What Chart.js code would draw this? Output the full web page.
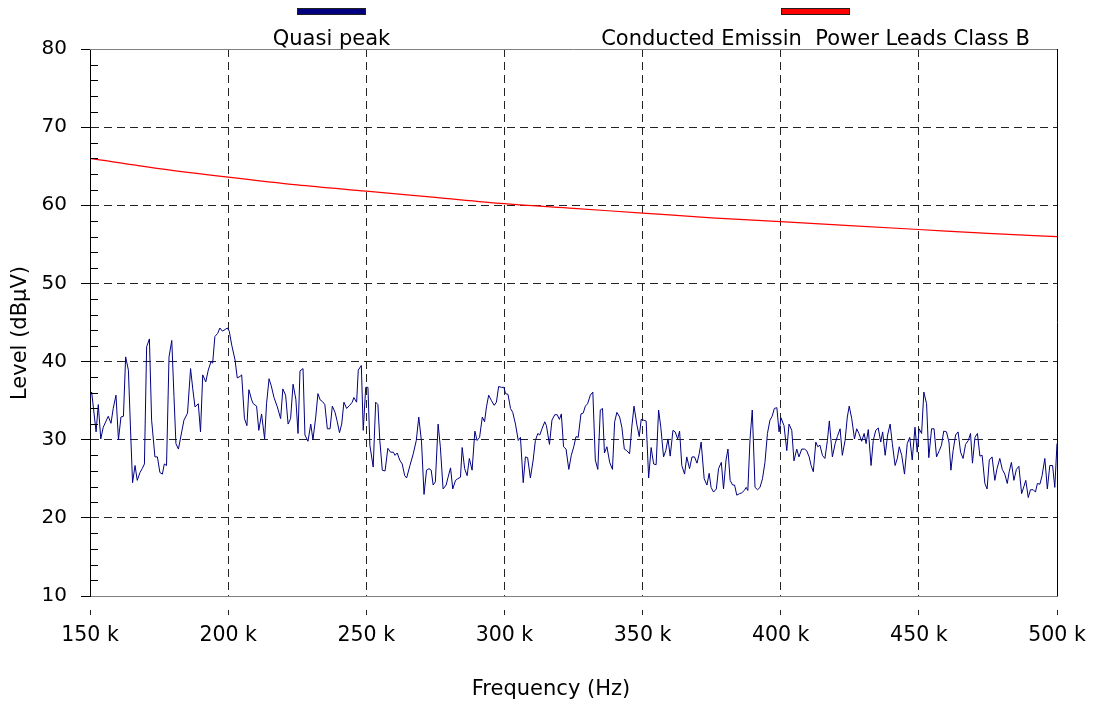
<!DOCTYPE html>
<html>
<head>
<meta charset="utf-8">
<script src="https://cdn.jsdelivr.net/npm/chart.js@4.4.1/dist/chart.umd.min.js"></script>
<style>
  html, body { margin: 0; padding: 0; background: #fff; }
  #wrap { width: 1096px; height: 704px; position: relative; }
</style>
</head>
<body>
<div id="wrap"><canvas id="emiChart"></canvas></div>
<script>
// Quasi peak scan (frequency in kHz, level in dBuV)
const qpFreq = [
  150.0,150.6,152.2,153.0,153.9,154.8,155.7,156.6,157.6,158.4,
  159.4,160.3,161.2,162.1,162.9,163.9,164.7,165.4,166.3,167.1,
  168.1,168.9,169.7,170.5,171.5,172.3,173.5,174.4,175.3,176.2,
  176.9,177.7,178.6,179.6,180.4,181.1,182.0,183.2,184.0,185.3,
  186.4,187.2,188.0,189.2,190.0,190.8,191.9,192.8,193.8,194.4,
  195.2,196.2,197.0,197.9,198.9,199.7,200.4,201.3,202.5,203.3,
  204.3,204.9,205.9,206.8,207.5,208.5,209.1,210.3,211.1,212.1,
  213.2,213.9,214.8,215.6,216.6,217.8,219.0,219.8,220.8,221.7,
  222.6,223.5,224.5,225.3,226.0,227.1,227.8,228.9,229.9,230.7,
  231.7,232.5,233.3,234.1,235.0,235.9,236.9,237.7,238.7,239.5,
  240.3,241.1,241.9,242.9,244.0,244.9,245.5,246.5,247.1,248.2,
  248.9,249.8,250.6,251.3,252.5,253.4,254.2,254.9,255.8,256.8,
  257.8,258.8,259.8,260.4,261.2,262.1,263.0,263.9,264.6,265.8,
  267.0,268.1,269.0,270.0,270.9,271.8,272.7,273.5,274.2,275.0,
  276.0,276.8,277.8,278.9,279.6,280.5,281.3,282.3,283.1,284.1,
  284.7,285.6,286.5,287.3,288.3,289.3,290.1,291.0,292.0,292.8,
  293.5,294.3,295.3,296.3,297.1,297.9,298.9,299.8,300.4,301.3,
  302.2,303.0,304.0,305.0,305.8,306.8,307.6,308.4,309.4,310.4,
  311.2,312.1,312.8,313.6,314.6,315.2,316.3,317.2,318.2,319.1,
  319.9,320.6,321.4,322.3,323.3,324.2,325.1,325.9,326.7,327.7,
  328.5,329.3,330.1,331.1,332.0,332.9,333.8,334.7,335.5,336.2,
  337.1,338.1,339.1,339.9,340.7,341.7,342.5,343.4,344.3,345.3,
  346.1,346.9,347.9,348.8,349.5,350.4,351.3,352.2,353.1,354.0,
  354.9,355.8,356.6,357.6,358.4,359.2,360.0,361.0,361.8,362.7,
  363.4,364.2,365.2,366.0,367.0,367.9,368.8,369.7,370.5,371.2,
  372.3,373.3,374.1,374.8,375.7,376.7,377.5,378.5,379.3,380.2,
  380.9,381.7,382.6,383.3,384.1,385.1,385.9,386.8,387.5,388.1,
  388.9,389.7,390.7,391.6,392.5,393.4,394.3,395.2,396.1,396.9,
  397.7,398.6,399.4,400.1,401.2,402.2,403.0,404.0,404.8,405.8,
  406.6,407.6,408.6,409.4,410.3,411.0,411.8,412.7,413.4,414.2,
  415.1,416.0,416.9,417.6,418.7,419.7,420.5,421.5,422.3,423.3,
  424.1,424.8,425.7,426.7,427.5,428.3,429.3,430.2,430.9,431.7,
  432.7,433.5,434.4,435.3,436.2,436.9,437.8,438.7,439.6,440.4,
  441.4,442.2,442.9,443.8,444.8,445.8,446.7,447.6,448.6,449.4,
  450.1,451.0,451.8,452.8,453.6,454.6,455.5,456.4,457.4,458.2,
  459.0,460.0,460.9,461.6,462.4,463.3,464.2,465.1,466.0,466.9,
  467.9,468.7,469.4,470.3,471.2,472.1,472.9,473.9,474.7,475.5,
  476.5,477.5,478.3,479.3,480.2,481.1,482.0,482.7,483.5,484.4,
  485.3,486.2,487.2,488.0,488.7,489.6,490.4,491.4,492.2,492.9,
  493.8,494.6,495.6,496.5,497.4,498.4,499.2,500.0
];
const qpLevel = [
  35.5,36.1,31.0,34.5,30.1,31.6,32.3,33.0,32.1,34.0,
  35.7,30.0,32.9,33.0,40.6,38.9,31.0,24.5,26.7,24.8,
  25.8,26.3,26.9,41.9,42.9,32.5,27.8,27.8,25.8,25.6,
  26.9,26.7,40.6,42.7,35.5,29.5,28.8,31.0,32.5,33.4,
  39.1,36.5,34.2,34.6,31.0,38.3,37.4,38.9,40.0,39.8,
  43.2,43.6,44.3,43.9,44.1,44.3,43.9,42.1,40.2,37.9,
  38.1,38.3,32.7,31.8,36.4,35.1,34.6,34.3,31.2,33.3,
  30.1,34.6,37.8,36.9,35.4,34.2,32.7,36.5,35.7,32.0,
  32.7,37.1,35.2,30.8,38.8,39.1,30.6,29.8,32.0,30.0,
  32.9,35.9,35.1,34.9,34.5,31.4,31.4,34.3,33.5,32.3,
  30.9,32.0,34.8,34.0,34.4,34.8,35.4,34.8,38.9,39.5,
  31.2,36.7,36.7,29.3,26.5,34.8,34.5,29.9,26.1,26.0,
  28.9,28.4,28.4,28.0,28.3,27.4,26.9,25.4,25.1,26.7,
  28.2,29.9,32.9,29.7,23.0,26.1,26.3,26.1,24.2,24.6,
  32.0,29.1,23.7,24.2,25.2,26.4,23.7,24.8,25.0,25.2,
  29.0,26.3,25.4,27.6,26.1,31.1,29.9,30.3,32.9,32.3,
  34.2,35.7,35.0,34.4,34.8,36.8,36.7,36.7,35.9,35.8,
  34.0,33.5,32.0,29.9,30.3,24.5,27.8,27.7,25.1,27.4,
  29.9,30.8,30.6,31.4,32.3,31.8,29.4,32.5,33.2,33.2,
  32.6,33.3,29.1,28.8,26.2,28.0,29.1,30.4,30.3,33.3,
  33.4,34.3,34.6,35.7,36.1,27.4,26.2,33.8,34.0,28.3,
  29.1,27.1,26.2,32.3,33.5,32.9,31.6,28.8,28.6,28.2,
  31.6,34.3,32.0,30.4,32.6,32.5,32.4,25.1,29.0,26.9,
  26.8,33.8,31.6,27.8,28.6,30.1,27.9,31.2,31.0,30.1,
  31.1,26.7,25.6,27.8,26.3,27.8,27.8,27.0,28.2,29.7,
  25.0,24.2,25.7,23.9,23.3,23.7,26.3,27.1,23.7,27.4,
  28.8,24.8,24.2,24.2,22.9,23.1,23.2,23.5,23.9,23.5,
  30.1,33.8,23.9,23.6,23.9,25.0,27.1,30.8,32.5,33.0,
  34.0,34.1,31.0,32.8,31.8,28.6,32.0,31.2,27.3,28.8,
  27.8,28.8,28.8,28.6,27.8,26.7,25.9,29.7,29.1,29.3,
  28.0,27.6,29.9,32.4,27.8,29.5,30.4,31.4,28.0,29.9,
  32.9,34.3,32.7,30.1,31.4,30.8,29.8,30.8,29.5,31.3,
  26.7,29.9,31.2,31.5,29.7,31.0,28.0,30.6,32.0,29.5,
  26.7,27.6,29.1,28.0,25.6,29.5,30.3,27.4,31.6,28.4,
  31.4,30.8,36.1,34.6,27.7,31.4,31.4,27.8,28.6,29.3,
  31.1,31.0,29.7,26.1,28.6,30.6,31.0,28.4,27.6,29.4,
  29.9,30.8,27.0,30.3,30.8,27.9,28.0,24.4,23.7,27.4,
  27.8,24.8,26.3,27.6,26.2,25.6,24.4,25.9,27.1,24.8,
  26.2,26.6,23.1,24.0,24.8,22.6,23.6,23.6,23.3,24.4,
  24.3,25.4,27.6,23.7,26.7,26.7,23.9,29.5
];

// Class B limit line
const limitFreq  = [150, 175, 200, 225, 250, 275, 300, 325, 350, 375, 400, 425, 450, 475, 500];
const limitLevel = [66.0, 64.7, 63.6, 62.6, 61.8, 61.0, 60.2, 59.6, 59.0, 58.4, 57.9, 57.4, 56.9, 56.4, 56.0];

const xTicks = [150, 200, 250, 300, 350, 400, 450, 500];
const yTicks = [10, 20, 30, 40, 50, 60, 70, 80];

const seriesNames = ['Quasi peak', 'Conducted Emissin  Power Leads Class B'];

const FONT = 'DejaVu Sans, Verdana, sans-serif';

function toPoints(xs, ys) {
  return xs.map((x, i) => ({ x: x, y: ys[i] }));
}

// axis titles, legend, top/right frame and minor ticks
const decorPlugin = {
  id: 'decor',
  afterDraw(chart) {
    const ctx = chart.ctx;
    const a = chart.chartArea;
    const yScale = chart.scales.y;
    ctx.save();

    // top (gray) and right (black) frame lines
    ctx.lineWidth = 1;
    ctx.strokeStyle = '#808080';
    ctx.beginPath();
    ctx.moveTo(a.left, Math.round(a.top) + 0.5);
    ctx.lineTo(a.right, Math.round(a.top) + 0.5);
    ctx.stroke();
    ctx.strokeStyle = '#000';
    ctx.beginPath();
    ctx.moveTo(Math.round(a.right) + 0.5, a.top);
    ctx.lineTo(Math.round(a.right) + 0.5, a.bottom);
    ctx.stroke();

    // minor ticks on the level axis
    for (let v = yScale.min; v <= yScale.max; v += 2) {
      if (v % 10 === 0) continue;
      const py = Math.round(yScale.getPixelForValue(v)) + 0.5;
      ctx.beginPath();
      ctx.moveTo(a.left, py);
      ctx.lineTo(a.left + 8, py);
      ctx.stroke();
    }

    // legend
    ctx.font = '21px ' + FONT;
    ctx.textAlign = 'center';
    ctx.textBaseline = 'alphabetic';
    const items = [
      { name: seriesNames[0], color: '#000080', x: 297 },
      { name: seriesNames[1], color: '#ff0000', x: 781 }
    ];
    items.forEach(it => {
      ctx.fillStyle = it.color;
      ctx.fillRect(it.x, 8, 69, 7);
      ctx.strokeStyle = '#202020';
      ctx.strokeRect(it.x + 0.5, 8.5, 68, 6);
      ctx.fillStyle = '#000';
      ctx.fillText(it.name, it.x + 34.5, 45);
    });

    // axis titles
    ctx.fillText('Frequency (Hz)', 551, 695);
    ctx.translate(26, 333);
    ctx.rotate(-Math.PI / 2);
    ctx.fillText('Level (dB\u00B5V)', 0, 0);
    ctx.restore();
  }
};

const ctx = document.getElementById('emiChart').getContext('2d');
const emiChart = new Chart(ctx, {
  type: 'line',
  data: {
    datasets: [
      {
        label: seriesNames[1],
        data: toPoints(limitFreq, limitLevel),
        borderColor: '#ff0000',
        borderWidth: 1.2,
        pointRadius: 0,
        cubicInterpolationMode: 'monotone',
        fill: false
      },
      {
        label: seriesNames[0],
        data: toPoints(qpFreq, qpLevel),
        borderColor: '#000080',
        borderWidth: 1,
        pointRadius: 0,
        tension: 0,
        fill: false
      }
    ]
  },
  options: {
    responsive: true,
    maintainAspectRatio: false,
    animation: false,
    layout: { padding: { left: 0, top: 49, right: 39, bottom: 0 } },
    plugins: {
      legend: { display: false },
      title: { display: false },
      tooltip: { enabled: false }
    },
    scales: {
      x: {
        type: 'linear',
        min: 150,
        max: 500,
        afterBuildTicks: scale => { scale.ticks = xTicks.map(v => ({ value: v })); },
        afterFit: scale => { scale.height = 108; },
        ticks: {
          callback: v => v + ' k',
          color: '#000',
          font: { family: FONT, size: 20.5 },
          padding: 8,
          maxRotation: 0
        },
        grid: {
          color: c => (c.tick && (c.tick.value === 150 || c.tick.value === 500)) ? 'rgba(0,0,0,0)' : '#222',
          tickColor: '#222',
          tickLength: 19,
          tickBorderDash: [0, 13, 6, 20]
        },
        border: { display: true, color: '#808080', width: 1, dash: [8, 5] }
      },
      y: {
        min: 10,
        max: 80,
        afterBuildTicks: scale => { scale.ticks = yTicks.map(v => ({ value: v })); },
        afterFit: scale => { scale.width = 90; },
        ticks: {
          color: '#000',
          font: { family: FONT, size: 20 },
          padding: 14
        },
        grid: {
          color: c => (c.tick && (c.tick.value === 10 || c.tick.value === 80)) ? 'rgba(0,0,0,0)' : '#222',
          tickColor: '#000',
          tickLength: 9
        },
        border: { display: true, color: '#000', width: 1, dash: [8, 5] }
      }
    }
  },
  plugins: [decorPlugin]
});
</script>
</body>
</html>
